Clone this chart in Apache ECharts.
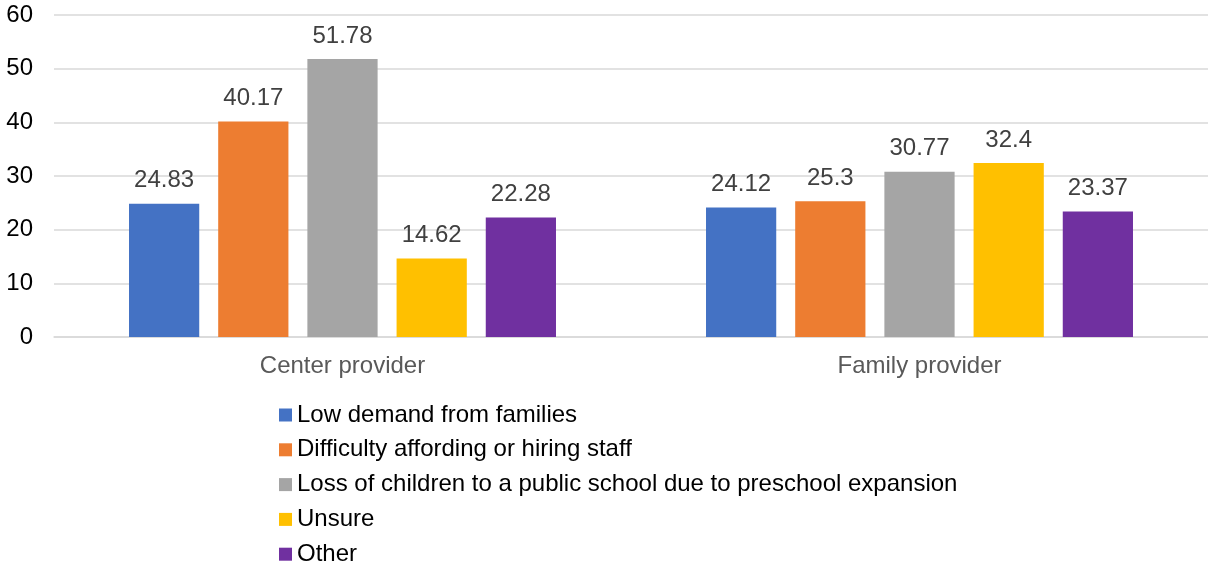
<!DOCTYPE html>
<html>
<head>
<meta charset="utf-8">
<script src="https://cdn.jsdelivr.net/npm/echarts@6/dist/echarts.min.js"></script>
<style>
  html, body { margin: 0; padding: 0; background: #fff; }
  #chart { width: 1208px; height: 568px; }
</style>
</head>
<body>
<div id="chart"></div>
<script>
// Provider types on the category axis
const categories = ['Center provider', 'Family provider'];

// Reasons (one series each) and their values per provider type
const seriesNames = [
  'Low demand from families',
  'Difficulty affording or hiring staff',
  'Loss of children to a public school due to preschool expansion',
  'Unsure',
  'Other'
];
const lowDemand = [24.83, 24.12];
const staffing = [40.17, 25.3];
const lossToPreschool = [51.78, 30.77];
const unsure = [14.62, 32.4];
const other = [22.28, 23.37];

const seriesColors = ['#4472C4', '#ED7D31', '#A5A5A5', '#FFC000', '#7030A0'];
const seriesValues = [lowDemand, staffing, lossToPreschool, unsure, other];

const FONT = '"Liberation Sans", Arial, sans-serif';
const FS = 24;

const chart = echarts.init(document.getElementById('chart'), null, { renderer: 'canvas' });

chart.setOption({
  animation: false,
  textStyle: { fontFamily: FONT },
  grid: { left: 54, right: 0, top: 15, bottom: 231, containLabel: false },
  legend: {
    orient: 'vertical',
    left: 279,
    top: 403,
    height: 200,
    padding: 0,
    itemWidth: 13,
    itemHeight: 13,
    itemGap: 10.8,
    icon: 'rect',
    textStyle: { fontFamily: FONT, fontSize: FS, color: '#000', lineHeight: 24 },
    data: seriesNames
  },
  xAxis: {
    type: 'category',
    data: categories,
    axisTick: { show: false },
    axisLine: { lineStyle: { color: '#d9d9d9', width: 1.5 } },
    axisLabel: { fontFamily: FONT, fontSize: FS, color: '#595959', margin: 17 }
  },
  yAxis: {
    type: 'value',
    min: 0,
    max: 60,
    interval: 10,
    axisLine: { show: false },
    axisTick: { show: false },
    splitLine: { lineStyle: { color: '#d9d9d9', width: 1.5 } },
    axisLabel: { fontFamily: FONT, fontSize: FS, color: '#000', margin: 21 }
  },
  series: seriesNames.map((name, i) => ({
    name: name,
    type: 'bar',
    data: seriesValues[i],
    barGap: '27%',
    barCategoryGap: '26%',
    itemStyle: { color: seriesColors[i] },
    label: {
      show: true,
      position: 'top',
      distance: 11,
      fontFamily: FONT,
      fontSize: FS,
      color: '#404040'
    }
  }))
});
</script>
</body>
</html>
